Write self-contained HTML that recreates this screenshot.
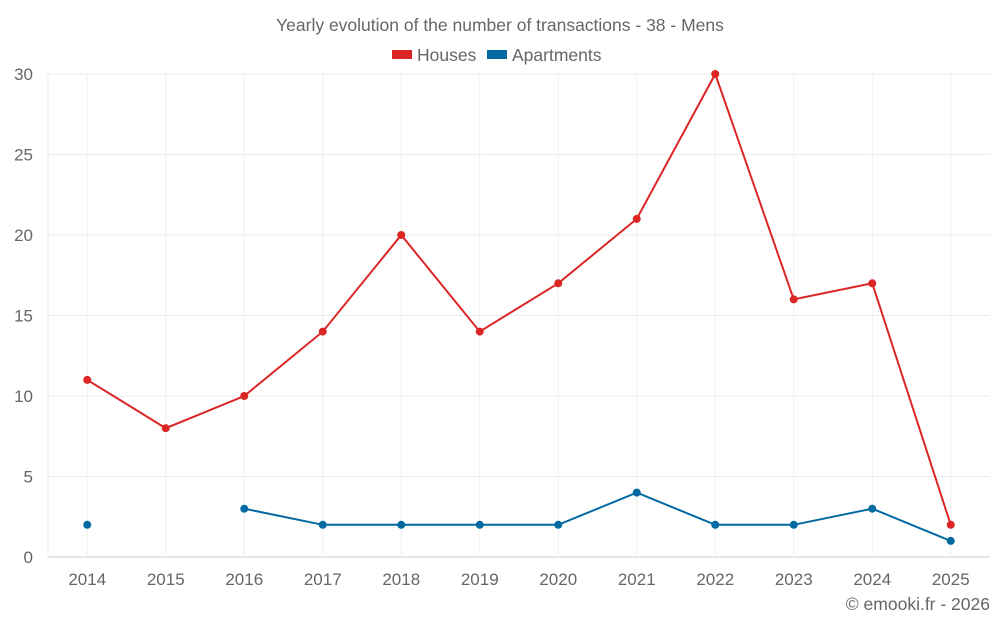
<!DOCTYPE html>
<html><head><meta charset="utf-8"><style>
body{margin:0;background:#fff;font-family:"Liberation Sans",sans-serif;}
svg text{font-family:"Liberation Sans",sans-serif;fill:#666;}
</style></head><body>
<svg id="chart" width="1000" height="625">
<text x="500" y="31" text-anchor="middle" font-size="17.5">Yearly evolution of the number of transactions - 38 - Mens</text>
<g>
<g><rect x="392" y="50" width="20" height="9" fill="#dc2626"/><text x="417" y="61" font-size="17.5">Houses</text></g>
<g><rect x="487" y="50" width="20" height="9" fill="#0369a1"/><text x="512" y="61" font-size="17.5">Apartments</text></g>
</g>
<g id="grid"></g><g id="axes"></g><g id="series"></g>
<text x="990" y="610" text-anchor="end" font-size="17.5">© emooki.fr - 2026</text>
</svg>
<script>
const categories=["2014","2015","2016","2017","2018","2019","2020","2021","2022","2023","2024","2025"];
const houses=[11,8,10,14,20,14,17,21,30,16,17,2];
const apartments=[2,null,3,2,2,2,2,4,2,2,3,1];
const yTicks=[0,5,10,15,20,25,30];
const L=48,R=990,T=74,B=557,yMax=30;
const bw=(R-L)/categories.length;
const x=i=>L+bw*(i+0.5);
const y=v=>B-(v/yMax)*(B-T);
const NS="http://www.w3.org/2000/svg";
function mk(tag,attrs,parent){const e=document.createElementNS(NS,tag);for(const k in attrs)e.setAttribute(k,attrs[k]);parent.appendChild(e);return e;}
const grid=document.getElementById('grid'),axes=document.getElementById('axes'),ser=document.getElementById('series');
yTicks.forEach(t=>{
 const l=mk('line',{x1:L,x2:R,y1:y(t),y2:y(t),stroke:t===0?'#ccc':'#ebebeb'},grid);
 
 
 const tx=mk('text',{x:33,y:y(t)+6,'text-anchor':'end','font-size':17},axes);tx.textContent=t;
 
 
});
const l0=mk('line',{x1:L,x2:L,y1:T,y2:B,stroke:'#ebebeb'},grid);


categories.forEach((c,i)=>{
 const l=mk('line',{x1:x(i),x2:x(i),y1:T,y2:B,stroke:'#f0f0f0'},grid);
 
 
 const tx=mk('text',{x:x(i),y:585,'text-anchor':'middle','font-size':17},axes);tx.textContent=c;
 
 
});
function draw(data,color,name){
 let d='',pen=false;
 data.forEach((v,i)=>{if(v==null){pen=false;return;}d+=(pen?'L':'M')+x(i)+' '+y(v)+' ';pen=true;});
 const p=mk('path',{d:d,fill:'none',stroke:color,'stroke-width':2},ser);
 
 
 data.forEach((v,i)=>{if(v==null)return;
  const c=mk('circle',{cx:x(i),cy:y(v),r:4,fill:color},ser);
  
  
 });
}
draw(houses,'#dc2626','houses');
draw(apartments,'#0369a1','apartments');
</script>
</body></html>
